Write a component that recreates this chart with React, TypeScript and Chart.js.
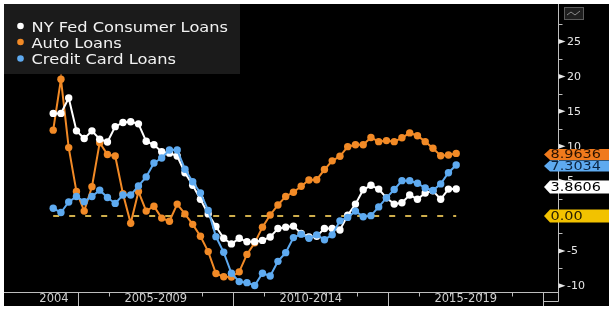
import React, { useEffect, useRef } from "react";
import { Chart, registerables } from "chart.js";

Chart.register(...registerables);

const W = 613;
const H = 310;

// Quarterly observations, 2004 Q1 .. 2017 Q1
const quarters: string[] = [];
for (let y = 2004; y <= 2017; y++) {
  for (let q = 1; q <= 4; q++) {
    if (quarters.length < 53) quarters.push(`${y} Q${q}`);
  }
}

const nyFedConsumer = [
  14.7, 14.7, 16.9, 12.2, 11.1, 12.2, 11.0, 10.6, 12.8, 13.4, 13.5, 13.2, 10.7,
  10.2, 9.2, 9.0, 8.6, 6.2, 4.4, 2.4, 0.3, -1.5, -3.2, -4.0, -3.2, -3.7, -3.7,
  -3.5, -3.0, -1.8, -1.6, -1.45, -2.5, -3.0, -2.9, -1.8, -1.8, -2.0, 0.1, 1.7,
  3.75, 4.4, 3.85, 2.6, 1.7, 1.9, 3.0, 2.4, 3.3, 3.6, 2.4, 3.85, 3.8606,
];

const autoLoans = [
  12.3, 19.6, 9.8, 3.5, 0.7, 4.2, 10.5, 8.8, 8.6, 3.2, -1.05, 3.5, 0.7, 1.4,
  -0.3, -0.75, 1.7, 0.3, -1.2, -2.9, -5.1, -8.25, -8.7, -8.75, -8.0, -5.5,
  -3.85, -1.6, 0.14, 1.58, 2.8, 3.4, 4.25, 5.15, 5.2, 6.65, 7.9, 8.55, 9.93,
  10.2, 10.2, 11.25, 10.65, 10.8, 10.65, 11.2, 11.9, 11.5, 10.65, 9.7, 8.64,
  8.74, 8.9636,
];

const creditCardLoans = [
  1.1, 0.5, 2.0, 2.8, 2.05, 2.8, 3.7, 2.65, 1.8, 3.0, 3.0, 4.3, 5.6, 7.6, 8.3,
  9.45, 9.45, 6.7, 4.9, 3.3, 0.8, -2.96, -5.2, -8.2, -9.4, -9.55, -9.95, -8.2,
  -8.6, -6.5, -5.25, -3.1, -2.6, -3.2, -2.7, -3.4, -2.7, -0.7, -0.2, 0.7, -0.1,
  0.05, 1.3, 2.6, 3.8, 5.06, 5.06, 4.7, 4.0, 3.65, 4.6, 6.2, 7.3034,
];

const zeroLevel = 0;

const yTicks = [-10, -5, 0, 5, 10, 15, 20, 25];
const yMinorTicks = [-7.5, -2.5, 2.5, 7.5, 12.5, 17.5, 22.5, 27.5];
const yearTicks = [2005, 2006, 2007, 2008, 2009, 2010, 2011, 2012, 2013, 2014, 2015, 2016, 2017, 2018, 2019, 2020];
const dividerYears = [2005, 2010, 2015, 2020];
const periodLabels = ["2004", "2005-2009", "2010-2014", "2015-2019"];
const periodStarts = [2003.43, 2005, 2010, 2015];
const periodEnds = [2005, 2010, 2015, 2020];

const seriesNames = ["NY Fed Consumer Loans", "Auto Loans", "Credit Card Loans"];

const WHITE = "#ffffff";
const ORANGE = "#f28a26";
const BLUE = "#5eaaf0";
const GOLD = "#cfae4c";
const FONT = '"DejaVu Sans", Verdana, sans-serif';

const X_MIN = 2002.603;
const X_MAX = 2020.474;
const Y_MIN = -10.89;
const Y_MAX = 30.37;

function quarterToYear(label: string) {
  const [y, q] = label.split(" Q");
  return Number(y) + (Number(q) - 1) * 0.25 + 0.19;
}

function text(
  ctx: CanvasRenderingContext2D,
  s: string,
  x: number,
  y: number,
  sx: number,
  align: CanvasTextAlign
) {
  ctx.save();
  ctx.translate(x, y);
  ctx.scale(sx, 1);
  ctx.textAlign = align;
  ctx.fillText(s, 0, 0);
  ctx.restore();
}

export default function App() {
  const ref = useRef<HTMLCanvasElement>(null);

  useEffect(() => {
    const canvas = ref.current;
    if (!canvas) return;
    const pts = (vals: number[]) =>
      vals.map((v, i) => ({ x: quarterToYear(quarters[i]), y: v }));

    const decor = {
      id: "decor",
      beforeDraw(chart: any) {
        const ctx: CanvasRenderingContext2D = chart.ctx;
        ctx.save();
        ctx.fillStyle = "#ffffff";
        ctx.fillRect(0, 0, W, H);
        ctx.fillStyle = "#000000";
        ctx.fillRect(4, 4, 605, 302);
        ctx.restore();
      },
      afterDraw(chart: any) {
        const ctx: CanvasRenderingContext2D = chart.ctx;
        const xs = chart.scales.x;
        const ys = chart.scales.y;
        const area = chart.chartArea;
        const axX = Math.round(area.right) + 0.5;
        const axY = Math.round(area.bottom) + 0.5;
        ctx.save();

        // x axis
        ctx.strokeStyle = "#bdbdbd";
        ctx.lineWidth = 1;
        ctx.beginPath();
        ctx.moveTo(4, axY);
        ctx.lineTo(axX, axY);
        ctx.stroke();
        yearTicks.forEach((yr) => {
          const px = Math.round(xs.getPixelForValue(yr)) + 0.5;
          const big = dividerYears.includes(yr);
          ctx.beginPath();
          ctx.moveTo(px, axY);
          ctx.lineTo(px, big ? 306 : axY + 4);
          ctx.stroke();
        });
        ctx.fillStyle = "#cfcfcf";
        ctx.font = `11.5px ${FONT}`;
        ctx.textBaseline = "middle";
        periodLabels.forEach((lab, i) => {
          const c = (xs.getPixelForValue(periodStarts[i]) + xs.getPixelForValue(periodEnds[i])) / 2;
          text(ctx, lab, c, 299.5, 1, "center");
        });

        // y axis
        ctx.beginPath();
        ctx.moveTo(axX, 4);
        ctx.lineTo(axX, 301.5);
        ctx.lineTo(xs.getPixelForValue(2020), 301.5);
        ctx.stroke();
        ctx.fillStyle = "#e6e6e6";
        yTicks.forEach((v) => {
          const py = ys.getPixelForValue(v);
          ctx.beginPath();
          ctx.moveTo(axX, py - 2.5);
          ctx.lineTo(axX + 7, py);
          ctx.lineTo(axX, py + 2.5);
          ctx.closePath();
          ctx.fill();
        });
        yMinorTicks.forEach((v) => {
          const py = Math.round(ys.getPixelForValue(v)) + 0.5;
          ctx.beginPath();
          ctx.moveTo(axX, py);
          ctx.lineTo(axX + 4, py);
          ctx.stroke();
        });
        ctx.font = `11px ${FONT}`;
        ctx.textBaseline = "middle";
        yTicks.forEach((v) => {
          text(ctx, String(v), axX + 8.5, ys.getPixelForValue(v) + 0.5, 1, "left");
        });

        // last-value tags
        const tag = (val: number, label: string, fill: string, ink: string, h: number, dy: number) => {
          const cy = ys.getPixelForValue(val) + dy;
          ctx.fillStyle = fill;
          ctx.beginPath();
          ctx.moveTo(544, cy);
          ctx.lineTo(550, cy - h / 2);
          ctx.lineTo(609, cy - h / 2);
          ctx.lineTo(609, cy + h / 2);
          ctx.lineTo(550, cy + h / 2);
          ctx.closePath();
          ctx.fill();
          ctx.fillStyle = ink;
          ctx.font = `12px ${FONT}`;
          ctx.textBaseline = "middle";
          text(ctx, label, 550.5, cy + 0.5, 1.2, "left");
        };
        const last = (a: number[]) => a[a.length - 1];
        tag(zeroLevel, zeroLevel.toFixed(2), "#f2c200", "#2a2000", 13, 0);
        tag(last(nyFedConsumer), last(nyFedConsumer).toFixed(4), WHITE, "#000000", 13, -2);
        tag(last(creditCardLoans), last(creditCardLoans).toFixed(4), BLUE, "#0b2440", 11, 1);
        tag(last(autoLoans), last(autoLoans).toFixed(4), "#f07a1c", "#2a1200", 11, 1);

        // legend
        ctx.fillStyle = "#1b1b1b";
        ctx.fillRect(4, 4, 236, 70);
        const colors = [WHITE, ORANGE, BLUE];
        const baselines = [31.5, 47.5, 64];
        const dots = [26, 42, 58.5];
        ctx.font = `14.5px ${FONT}`;
        ctx.textBaseline = "alphabetic";
        seriesNames.forEach((n, i) => {
          ctx.fillStyle = colors[i];
          ctx.beginPath();
          ctx.arc(20.5, dots[i], 3.3, 0, Math.PI * 2);
          ctx.fill();
          ctx.fillStyle = "#f2f2f2";
          text(ctx, n, 31.5, baselines[i], 1.12, "left");
        });

        // chart-type icon
        ctx.fillStyle = "#1e1e1e";
        ctx.strokeStyle = "#5a5a5a";
        ctx.fillRect(564, 7, 20, 13);
        ctx.strokeRect(564.5, 7.5, 19, 12);
        ctx.strokeStyle = "#8a8a8a";
        ctx.beginPath();
        ctx.moveTo(567, 15);
        ctx.lineTo(571, 12);
        ctx.lineTo(575, 15);
        ctx.lineTo(580, 11);
        ctx.stroke();

        ctx.restore();
      },
    };

    const chart = new Chart(canvas, {
      type: "line",
      data: {
        datasets: [
          {
            label: seriesNames[2],
            data: pts(creditCardLoans),
            borderColor: BLUE,
            backgroundColor: BLUE,
            pointBackgroundColor: BLUE,
            pointBorderWidth: 0,
            pointRadius: 3.7,
            borderWidth: 2,
            order: 0,
          },
          {
            label: seriesNames[0],
            data: pts(nyFedConsumer),
            borderColor: WHITE,
            backgroundColor: WHITE,
            pointBackgroundColor: WHITE,
            pointBorderWidth: 0,
            pointRadius: 3.7,
            borderWidth: 2,
            order: 1,
          },
          {
            label: seriesNames[1],
            data: pts(autoLoans),
            borderColor: ORANGE,
            backgroundColor: ORANGE,
            pointBackgroundColor: ORANGE,
            pointBorderWidth: 0,
            pointRadius: 3.7,
            borderWidth: 2,
            order: 2,
          },
          {
            label: "zero",
            data: quarters.map((q) => ({ x: quarterToYear(q), y: zeroLevel })),
            borderColor: GOLD,
            borderWidth: 2,
            borderDash: [6, 10],
            pointRadius: 0,
            order: 3,
          },
        ],
      },
      options: {
        responsive: false,
        animation: false,
        devicePixelRatio: 1,
        events: [],
        layout: { padding: { left: 4, right: 55, top: 4, bottom: 18 } },
        scales: {
          x: { type: "linear", min: X_MIN, max: X_MAX, display: false },
          y: { type: "linear", min: Y_MIN, max: Y_MAX, display: false },
        },
        plugins: {
          legend: { display: false },
          tooltip: { enabled: false },
        },
      },
      plugins: [decor],
    } as any);

    return () => chart.destroy();
  }, []);

  return (
    <div style={{ position: "fixed", left: 0, top: 0, width: W, height: H }}>
      <canvas ref={ref} width={W} height={H} style={{ display: "block", width: W, height: H }} />
    </div>
  );
}
